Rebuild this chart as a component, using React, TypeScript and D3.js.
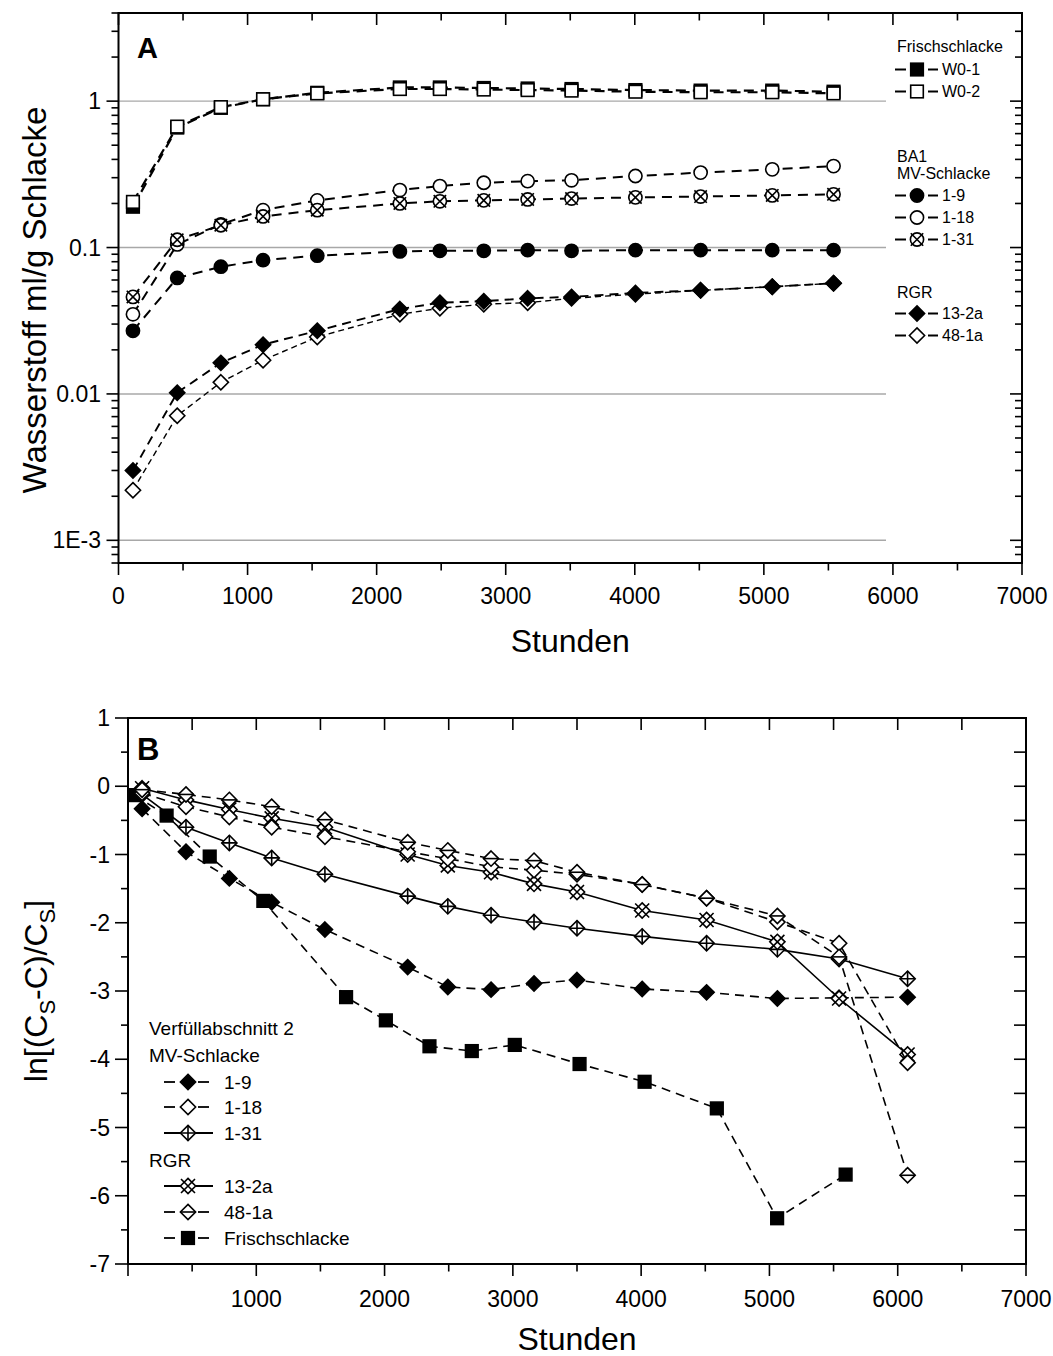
import React from 'react';
import * as d3 from 'd3';

// ---------- Panel A data (Wasserstoff ml/g Schlacke, log axis) ----------
const hoursA = [112, 455, 793, 1120, 1540, 2180, 2490, 2830, 3170, 3510, 4005, 4510, 5065, 5540];
const aW01 = [0.19, 0.66, 0.9, 1.03, 1.14, 1.24, 1.24, 1.23, 1.22, 1.21, 1.19, 1.18, 1.18, 1.16];
const aW02 = [0.205, 0.67, 0.91, 1.03, 1.13, 1.21, 1.21, 1.2, 1.19, 1.18, 1.16, 1.15, 1.15, 1.13];
const a1_9 = [0.027, 0.062, 0.074, 0.082, 0.088, 0.094, 0.095, 0.095, 0.096, 0.095, 0.096, 0.096, 0.096, 0.096];
const a1_18 = [0.035, 0.105, 0.144, 0.18, 0.21, 0.247, 0.263, 0.277, 0.284, 0.288, 0.308, 0.325, 0.342, 0.36];
const a1_31 = [0.046, 0.113, 0.142, 0.163, 0.18, 0.2, 0.207, 0.21, 0.213, 0.216, 0.22, 0.223, 0.227, 0.231];
const a13_2a = [0.003, 0.0102, 0.0163, 0.0217, 0.027, 0.038, 0.042, 0.043, 0.045, 0.046, 0.049, 0.051, 0.054, 0.057];
const a48_1a = [0.0022, 0.0071, 0.012, 0.017, 0.0245, 0.035, 0.0385, 0.041, 0.042, 0.045, 0.048, 0.051, 0.054, 0.057];

// ---------- Panel B data (ln[(Cs-C)/Cs]) ----------
const hoursB = [110, 452, 790, 1120, 1535, 2180, 2493, 2830, 3165, 3500, 4008, 4510, 5062, 5543, 6077];
const b1_9 = [-0.33, -0.96, -1.35, -1.7, -2.1, -2.65, -2.94, -2.98, -2.89, -2.84, -2.97, -3.02, -3.11, -3.1, -3.09];
const b1_18 = [-0.1, -0.3, -0.45, -0.6, -0.74, -0.96, -1.06, -1.18, -1.23, -1.29, -1.44, -1.64, -1.99, -2.3, -4.05];
const b1_31 = [-0.12, -0.6, -0.83, -1.05, -1.29, -1.61, -1.76, -1.89, -1.99, -2.08, -2.2, -2.3, -2.39, -2.53, -2.82];
const b13_2a = [-0.03, -0.2, -0.34, -0.47, -0.6, -1.0, -1.16, -1.26, -1.43, -1.55, -1.82, -1.96, -2.28, -3.11, -3.93];
const b48_1a = [-0.05, -0.12, -0.2, -0.3, -0.49, -0.82, -0.94, -1.06, -1.09, -1.26, -1.44, -1.64, -1.9, -2.5, -5.7];
const hoursFrisch = [52, 301, 637, 1055, 1700, 2010, 2350, 2680, 3015, 3520, 4027, 4590, 5060, 5594];
const bFrisch = [-0.13, -0.43, -1.03, -1.68, -3.09, -3.43, -3.81, -3.88, -3.79, -4.07, -4.33, -4.72, -6.33, -5.69];

// ---------- tick labels ----------
const xTicksA = [0, 1000, 2000, 3000, 4000, 5000, 6000, 7000];
const xTicksB = [1000, 2000, 3000, 4000, 5000, 6000, 7000];
const yTicksA = [0.001, 0.01, 0.1, 1];
const yTickLabelsA = ['1E-3', '0.01', '0.1', '1'];
const yTicksB = [-7, -6, -5, -4, -3, -2, -1, 0, 1];

const FONT = '"Liberation Sans", Arial, Helvetica, sans-serif';

type MType = 'sqF' | 'sqO' | 'ciF' | 'ciO' | 'ciX' | 'diF' | 'diO' | 'diP' | 'diX' | 'diH';

function Marker({ type, x, y }: { type: MType; x: number; y: number }) {
  const sw = 1.6;
  const common = { stroke: '#000', strokeWidth: sw };
  const sq = 6.3;
  const r = 6.6;
  const d = 7.6;
  const dia = `M${x},${y - d}L${x + d},${y}L${x},${y + d}L${x - d},${y}Z`;
  switch (type) {
    case 'sqF':
      return <rect x={x - sq} y={y - sq} width={sq * 2} height={sq * 2} fill="#000" {...common} />;
    case 'sqO':
      return <rect x={x - sq} y={y - sq} width={sq * 2} height={sq * 2} fill="#fff" {...common} />;
    case 'ciF':
      return <circle cx={x} cy={y} r={r} fill="#000" {...common} />;
    case 'ciO':
      return <circle cx={x} cy={y} r={r} fill="#fff" {...common} />;
    case 'ciX': {
      const k = 6.2;
      return (
        <g>
          <circle cx={x} cy={y} r={r} fill="#fff" {...common} />
          <path d={`M${x - k},${y - k}L${x + k},${y + k}M${x - k},${y + k}L${x + k},${y - k}`} fill="none" {...common} />
        </g>
      );
    }
    case 'diF':
      return <path d={dia} fill="#000" {...common} />;
    case 'diO':
      return <path d={dia} fill="#fff" {...common} />;
    case 'diP':
      return (
        <g>
          <path d={dia} fill="#fff" {...common} />
          <path d={`M${x},${y - d}L${x},${y + d}M${x - d},${y}L${x + d},${y}`} fill="none" {...common} />
        </g>
      );
    case 'diX': {
      const k = 7;
      return (
        <g>
          <path d={dia} fill="#fff" {...common} />
          <path d={`M${x - k},${y - k}L${x + k},${y + k}M${x - k},${y + k}L${x + k},${y - k}`} fill="none" {...common} />
        </g>
      );
    }
    case 'diH':
      return (
        <g>
          <path d={dia} fill="#fff" {...common} />
          <path d={`M${x - d},${y}L${x + d},${y}`} fill="none" {...common} />
        </g>
      );
  }
  return null;
}

export default function App() {
  const W = 1053;
  const H = 1356;

  // scales
  const xA = d3.scaleLinear().domain([0, 7000]).range([118.5, 1022]);
  const yA = d3.scaleLog().domain([7e-4, 4]).range([563, 13]);
  const xB = d3.scaleLinear().domain([0, 7000]).range([128, 1026]);
  const yB = d3.scaleLinear().domain([-7, 1]).range([1264, 718]);

  const seriesA = [
    { name: '48-1a', vals: a48_1a, m: 'diO' as MType, dash: '6 4', w: 1.4 },
    { name: '13-2a', vals: a13_2a, m: 'diF' as MType, dash: '9 6', w: 1.9 },
    { name: '1-9', vals: a1_9, m: 'ciF' as MType, dash: '10 7', w: 2 },
    { name: '1-18', vals: a1_18, m: 'ciO' as MType, dash: '10 7', w: 2 },
    { name: '1-31', vals: a1_31, m: 'ciX' as MType, dash: '10 7', w: 2 },
    { name: 'W0-1', vals: aW01, m: 'sqF' as MType, dash: '10 7', w: 2.2 },
    { name: 'W0-2', vals: aW02, m: 'sqO' as MType, dash: '10 7', w: 2.2 },
  ];

  const seriesB = [
    { name: 'Frischschlacke', xs: hoursFrisch, vals: bFrisch, m: 'sqF' as MType, dash: '9 6' },
    { name: '1-9', xs: hoursB, vals: b1_9, m: 'diF' as MType, dash: '9 6' },
    { name: '1-31', xs: hoursB, vals: b1_31, m: 'diP' as MType, dash: '' },
    { name: '13-2a', xs: hoursB, vals: b13_2a, m: 'diX' as MType, dash: '' },
    { name: '1-18', xs: hoursB, vals: b1_18, m: 'diO' as MType, dash: '9 6' },
    { name: '48-1a', xs: hoursB, vals: b48_1a, m: 'diH' as MType, dash: '9 6' },
  ];

  const lineA = d3
    .line<[number, number]>()
    .x((p) => xA(p[0]))
    .y((p) => yA(p[1]));
  const lineB = d3
    .line<[number, number]>()
    .x((p) => xB(p[0]))
    .y((p) => yB(p[1]));

  // ticks
  const xMinor = d3.range(0, 7001, 500);
  const logTicks: number[] = [];
  for (let e = -4; e <= 1; e++) {
    for (let k = 1; k <= 9; k++) {
      const v = k * Math.pow(10, e);
      if (v >= 7e-4 * 0.999 && v <= 4.001) logTicks.push(v);
    }
  }
  const isMajorLog = (v: number) => Math.abs(Math.log10(v) - Math.round(Math.log10(v))) < 1e-6;
  const yBTicks = d3.range(-7, 1.001, 0.5);

  const [a0, a1] = xA.range();
  const [aBot, aTop] = yA.range();
  const [b0, b1] = xB.range();
  const [bBot, bTop] = yB.range();

  const axisStroke = { stroke: '#000', strokeWidth: 2, fill: 'none' };
  const tickStroke = { stroke: '#000', strokeWidth: 1.6 };

  // Legend A entries
  const legendA = [
    { kind: 'h', text: 'Frischschlacke', y: 52 },
    { kind: 'i', text: 'W0-1', y: 75, m: 'sqF' as MType },
    { kind: 'i', text: 'W0-2', y: 97, m: 'sqO' as MType },
    { kind: 'h', text: 'BA1', y: 162 },
    { kind: 'h', text: 'MV-Schlacke', y: 179 },
    { kind: 'i', text: '1-9', y: 201, m: 'ciF' as MType },
    { kind: 'i', text: '1-18', y: 223, m: 'ciO' as MType },
    { kind: 'i', text: '1-31', y: 245, m: 'ciX' as MType },
    { kind: 'h', text: 'RGR', y: 298 },
    { kind: 'i', text: '13-2a', y: 319, m: 'diF' as MType },
    { kind: 'i', text: '48-1a', y: 341, m: 'diO' as MType },
  ];

  const legendB = [
    { kind: 'h', text: 'Verfüllabschnitt 2', y: 1028 },
    { kind: 'h', text: 'MV-Schlacke', y: 1055 },
    { kind: 'i', text: '1-9', y: 1082, m: 'diF' as MType, solid: false },
    { kind: 'i', text: '1-18', y: 1107, m: 'diO' as MType, solid: false },
    { kind: 'i', text: '1-31', y: 1133, m: 'diP' as MType, solid: true },
    { kind: 'h', text: 'RGR', y: 1160 },
    { kind: 'i', text: '13-2a', y: 1186, m: 'diX' as MType, solid: true },
    { kind: 'i', text: '48-1a', y: 1212, m: 'diH' as MType, solid: false },
    { kind: 'i', text: 'Frischschlacke', y: 1238, m: 'sqF' as MType, solid: false },
  ];

  return (
    <svg
      width={W}
      height={H}
      viewBox={`0 0 ${W} ${H}`}
      style={{ position: 'absolute', left: 0, top: 0, background: '#fff' }}
      fontFamily={FONT}
    >
      <rect x={0} y={0} width={W} height={H} fill="#fff" />

      {/* ================= PANEL A ================= */}
      {yTicksA.map((v) => (
        <line key={'gA' + v} x1={a0} x2={886} y1={yA(v)} y2={yA(v)} stroke="#a8a8a8" strokeWidth={1.4} />
      ))}

      {seriesA.map((s) => {
        const pts = hoursA.map((h, i) => [h, s.vals[i]] as [number, number]);
        return (
          <g key={'sA' + s.name}>
            <path d={lineA(pts) || ''} fill="none" stroke="#000" strokeWidth={s.w} strokeDasharray={s.dash} />
            {pts.map((p, i) => (
              <Marker key={i} type={s.m} x={xA(p[0])} y={yA(p[1])} />
            ))}
          </g>
        );
      })}

      {/* frame A */}
      <rect x={a0} y={aTop} width={a1 - a0} height={aBot - aTop} {...axisStroke} />
      {xMinor.map((v) => {
        const major = v % 1000 === 0;
        const L = major ? 12 : 7.5;
        return (
          <g key={'xtA' + v}>
            <line x1={xA(v)} x2={xA(v)} y1={aBot} y2={aBot + L} {...tickStroke} />
            <line x1={xA(v)} x2={xA(v)} y1={aTop} y2={aTop + L} {...tickStroke} />
          </g>
        );
      })}
      {logTicks.map((v) => {
        const major = isMajorLog(v);
        const L = major ? 12 : 7;
        return (
          <g key={'ytA' + v}>
            <line x1={a0 - L} x2={a0} y1={yA(v)} y2={yA(v)} {...tickStroke} />
            <line x1={a1 - L} x2={a1} y1={yA(v)} y2={yA(v)} {...tickStroke} />
          </g>
        );
      })}
      {xTicksA.map((v) => (
        <text key={'xlA' + v} x={xA(v)} y={604} fontSize={23} textAnchor="middle">
          {v}
        </text>
      ))}
      {yTicksA.map((v, i) => (
        <text key={'ylA' + v} x={101} y={yA(v) + 8} fontSize={23} textAnchor="end">
          {yTickLabelsA[i]}
        </text>
      ))}
      <text x={(a0 + a1) / 2} y={652} fontSize={32} textAnchor="middle">
        Stunden
      </text>
      <text transform={`translate(46,${(aTop + aBot) / 2 + 12}) rotate(-90)`} fontSize={33} textAnchor="middle">
        Wasserstoff ml/g Schlacke
      </text>
      <text x={137} y={58} fontSize={29} fontWeight="bold">
        A
      </text>

      {/* legend A */}
      {legendA.map((e, i) =>
        e.kind === 'h' ? (
          <text key={'lA' + i} x={897} y={e.y} fontSize={16}>
            {e.text}
          </text>
        ) : (
          <g key={'lA' + i}>
            <line x1={895} x2={906} y1={e.y - 5.5} y2={e.y - 5.5} stroke="#000" strokeWidth={2} />
            <line x1={928} x2={938} y1={e.y - 5.5} y2={e.y - 5.5} stroke="#000" strokeWidth={2} />
            <Marker type={e.m as MType} x={917} y={e.y - 5.5} />
            <text x={942} y={e.y} fontSize={16}>
              {e.text}
            </text>
          </g>
        )
      )}

      {/* ================= PANEL B ================= */}
      {seriesB.map((s) => {
        const pts = s.xs.map((h, i) => [h, s.vals[i]] as [number, number]);
        return (
          <g key={'sB' + s.name}>
            <path
              d={lineB(pts) || ''}
              fill="none"
              stroke="#000"
              strokeWidth={1.6}
              strokeDasharray={s.dash || undefined}
            />
            {pts.map((p, i) => (
              <Marker key={i} type={s.m} x={xB(p[0])} y={yB(p[1])} />
            ))}
          </g>
        );
      })}

      <rect x={b0} y={bTop} width={b1 - b0} height={bBot - bTop} {...axisStroke} />
      {xMinor.map((v) => {
        const major = v % 1000 === 0;
        return (
          <g key={'xtB' + v}>
            <line x1={xB(v)} x2={xB(v)} y1={bBot} y2={bBot + (major ? 12 : 7.5)} {...tickStroke} />
            <line x1={xB(v)} x2={xB(v)} y1={bTop} y2={bTop + 12} {...tickStroke} />
          </g>
        );
      })}
      {yBTicks.map((v) => {
        const major = Math.abs(v - Math.round(v)) < 1e-6;
        return (
          <g key={'ytB' + v}>
            <line x1={b0 - (major ? 13 : 7)} x2={b0} y1={yB(v)} y2={yB(v)} {...tickStroke} />
            <line x1={b1 - 12} x2={b1} y1={yB(v)} y2={yB(v)} {...tickStroke} />
          </g>
        );
      })}
      {xTicksB.map((v) => (
        <text key={'xlB' + v} x={xB(v)} y={1307} fontSize={23} textAnchor="middle">
          {v}
        </text>
      ))}
      {yTicksB.map((v) => (
        <text key={'ylB' + v} x={110} y={yB(v) + 8} fontSize={23} textAnchor="end">
          {String(v)}
        </text>
      ))}
      <text x={(b0 + b1) / 2} y={1350} fontSize={32} textAnchor="middle">
        Stunden
      </text>
      <text transform={`translate(47,${(bTop + bBot) / 2}) rotate(-90)`} fontSize={32} textAnchor="middle">
        ln[(C<tspan fontSize={22} dy={8}>S</tspan>
        <tspan dy={-8}>-C)/C</tspan>
        <tspan fontSize={22} dy={8}>S</tspan>
        <tspan dy={-8}>]</tspan>
      </text>
      <text x={137} y={760} fontSize={31} fontWeight="bold">
        B
      </text>

      {/* legend B */}
      {legendB.map((e, i) =>
        e.kind === 'h' ? (
          <text key={'lB' + i} x={149} y={e.y + 7} fontSize={19}>
            {e.text}
          </text>
        ) : (
          <g key={'lB' + i}>
            {e.solid ? (
              <line x1={164} x2={213} y1={e.y} y2={e.y} stroke="#000" strokeWidth={1.8} />
            ) : (
              <g>
                <line x1={164} x2={175} y1={e.y} y2={e.y} stroke="#000" strokeWidth={1.8} />
                <line x1={198} x2={209} y1={e.y} y2={e.y} stroke="#000" strokeWidth={1.8} />
              </g>
            )}
            <Marker type={e.m as MType} x={188} y={e.y} />
            <text x={224} y={e.y + 7} fontSize={19}>
              {e.text}
            </text>
          </g>
        )
      )}
    </svg>
  );
}
